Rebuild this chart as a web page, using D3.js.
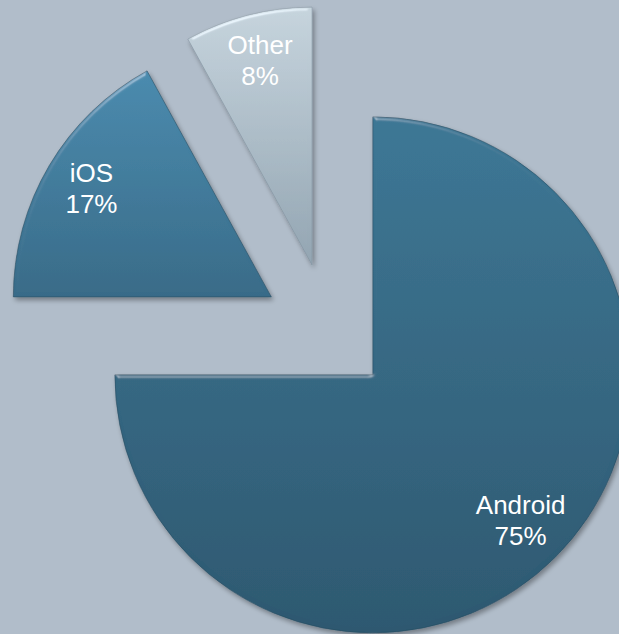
<!DOCTYPE html>
<html>
<head>
<meta charset="utf-8">
<script src="https://cdn.jsdelivr.net/npm/d3@7"></script>
<style>
  html, body { margin: 0; padding: 0; background: #b1bdca; }
  svg { display: block; }
</style>
</head>
<body>
<svg id="chart" width="619" height="634"></svg>
<script>
// ---- data ----
const categories = ["Android", "iOS", "Other"];
const values = [75, 17, 8];
const labels = ["75%", "17%", "8%"];

// ---- layout / style ----
const W = 619, H = 634;
const center = [329, 331];
const radius = 258;
const explode = [62, 67, 68];
const gradStops = [
  ["#3c7795", "#2d5870"],
  ["#4a8bae", "#386b88"],
  ["#c6d4dd", "#93a5b2"]
];

const svg = d3.select("#chart");
svg.append("rect").attr("width", W).attr("height", H).attr("fill", "#b1bdca");

const defs = svg.append("defs");
gradStops.forEach((s, i) => {
  const g = defs.append("linearGradient")
    .attr("id", "grad" + i).attr("x1", 0).attr("y1", 0).attr("x2", 0).attr("y2", 1);
  g.append("stop").attr("offset", "0%").attr("stop-color", s[0]);
  g.append("stop").attr("offset", "100%").attr("stop-color", s[1]);
});

const f = defs.append("filter").attr("id", "bevel")
  .attr("x", "-10%").attr("y", "-10%").attr("width", "120%").attr("height", "120%");
f.append("feGaussianBlur").attr("in", "SourceAlpha").attr("stdDeviation", 2).attr("result", "blur");
const spec = f.append("feSpecularLighting").attr("in", "blur")
  .attr("surfaceScale", 3).attr("specularConstant", 0.6).attr("specularExponent", 30)
  .attr("lighting-color", "#ffffff").attr("result", "spec");
spec.append("feDistantLight").attr("azimuth", 250).attr("elevation", 25);
f.append("feComposite").attr("in", "spec").attr("in2", "SourceAlpha").attr("operator", "in").attr("result", "specOut");
f.append("feComposite").attr("in", "SourceGraphic").attr("in2", "specOut")
  .attr("operator", "arithmetic").attr("k1", 0).attr("k2", 1).attr("k3", 0.45).attr("k4", 0).attr("result", "lit");
f.append("feGaussianBlur").attr("in", "SourceAlpha").attr("stdDeviation", 2.5).attr("result", "sblur");
f.append("feOffset").attr("in", "sblur").attr("dx", 2).attr("dy", 3).attr("result", "soff");
f.append("feComponentTransfer").attr("in", "soff").attr("result", "shadow")
  .append("feFuncA").attr("type", "linear").attr("slope", 0.35);
const merge = f.append("feMerge");
merge.append("feMergeNode").attr("in", "shadow");
merge.append("feMergeNode").attr("in", "lit");

const data = categories.map((c, i) => ({ cat: c, value: values[i], label: labels[i], idx: i }));
const pie = d3.pie().sort(null).value(d => d.value).startAngle(0).endAngle(2 * Math.PI);
const arcs = pie(data);
const arc = d3.arc().innerRadius(0).outerRadius(radius);

const g = svg.append("g").attr("transform", `translate(${center[0]},${center[1]})`);

const slices = g.selectAll("g.slice").data(arcs).enter().append("g")
  .attr("class", "slice")
  .attr("transform", d => {
    const m = (d.startAngle + d.endAngle) / 2;
    const e = explode[d.data.idx];
    return `translate(${e * Math.sin(m)},${-e * Math.cos(m)})`;
  });

slices.append("path")
  .attr("d", arc)
  .attr("fill", d => `url(#grad${d.data.idx})`)
  .attr("stroke", d => d.data.idx === 2 ? "#7f909c" : "#2a4b5f")
  .attr("stroke-width", 0.8)
  .attr("stroke-opacity", 0.7)
  .attr("filter", "url(#bevel)");

const lr = radius * 0.81;
slices.each(function(d) {
  const m = (d.startAngle + d.endAngle) / 2;
  const px = lr * Math.sin(m), py = -lr * Math.cos(m);
  const t = d3.select(this).append("text")
    .attr("text-anchor", "middle")
    .attr("fill", "#ffffff")
    .attr("font-family", "Liberation Sans, Arial, sans-serif")
    .attr("font-size", 26);
  t.append("tspan").attr("x", px).attr("y", py - 9).text(d.data.cat);
  t.append("tspan").attr("x", px).attr("y", py + 22).text(d.data.label);
});
</script>
</body>
</html>
